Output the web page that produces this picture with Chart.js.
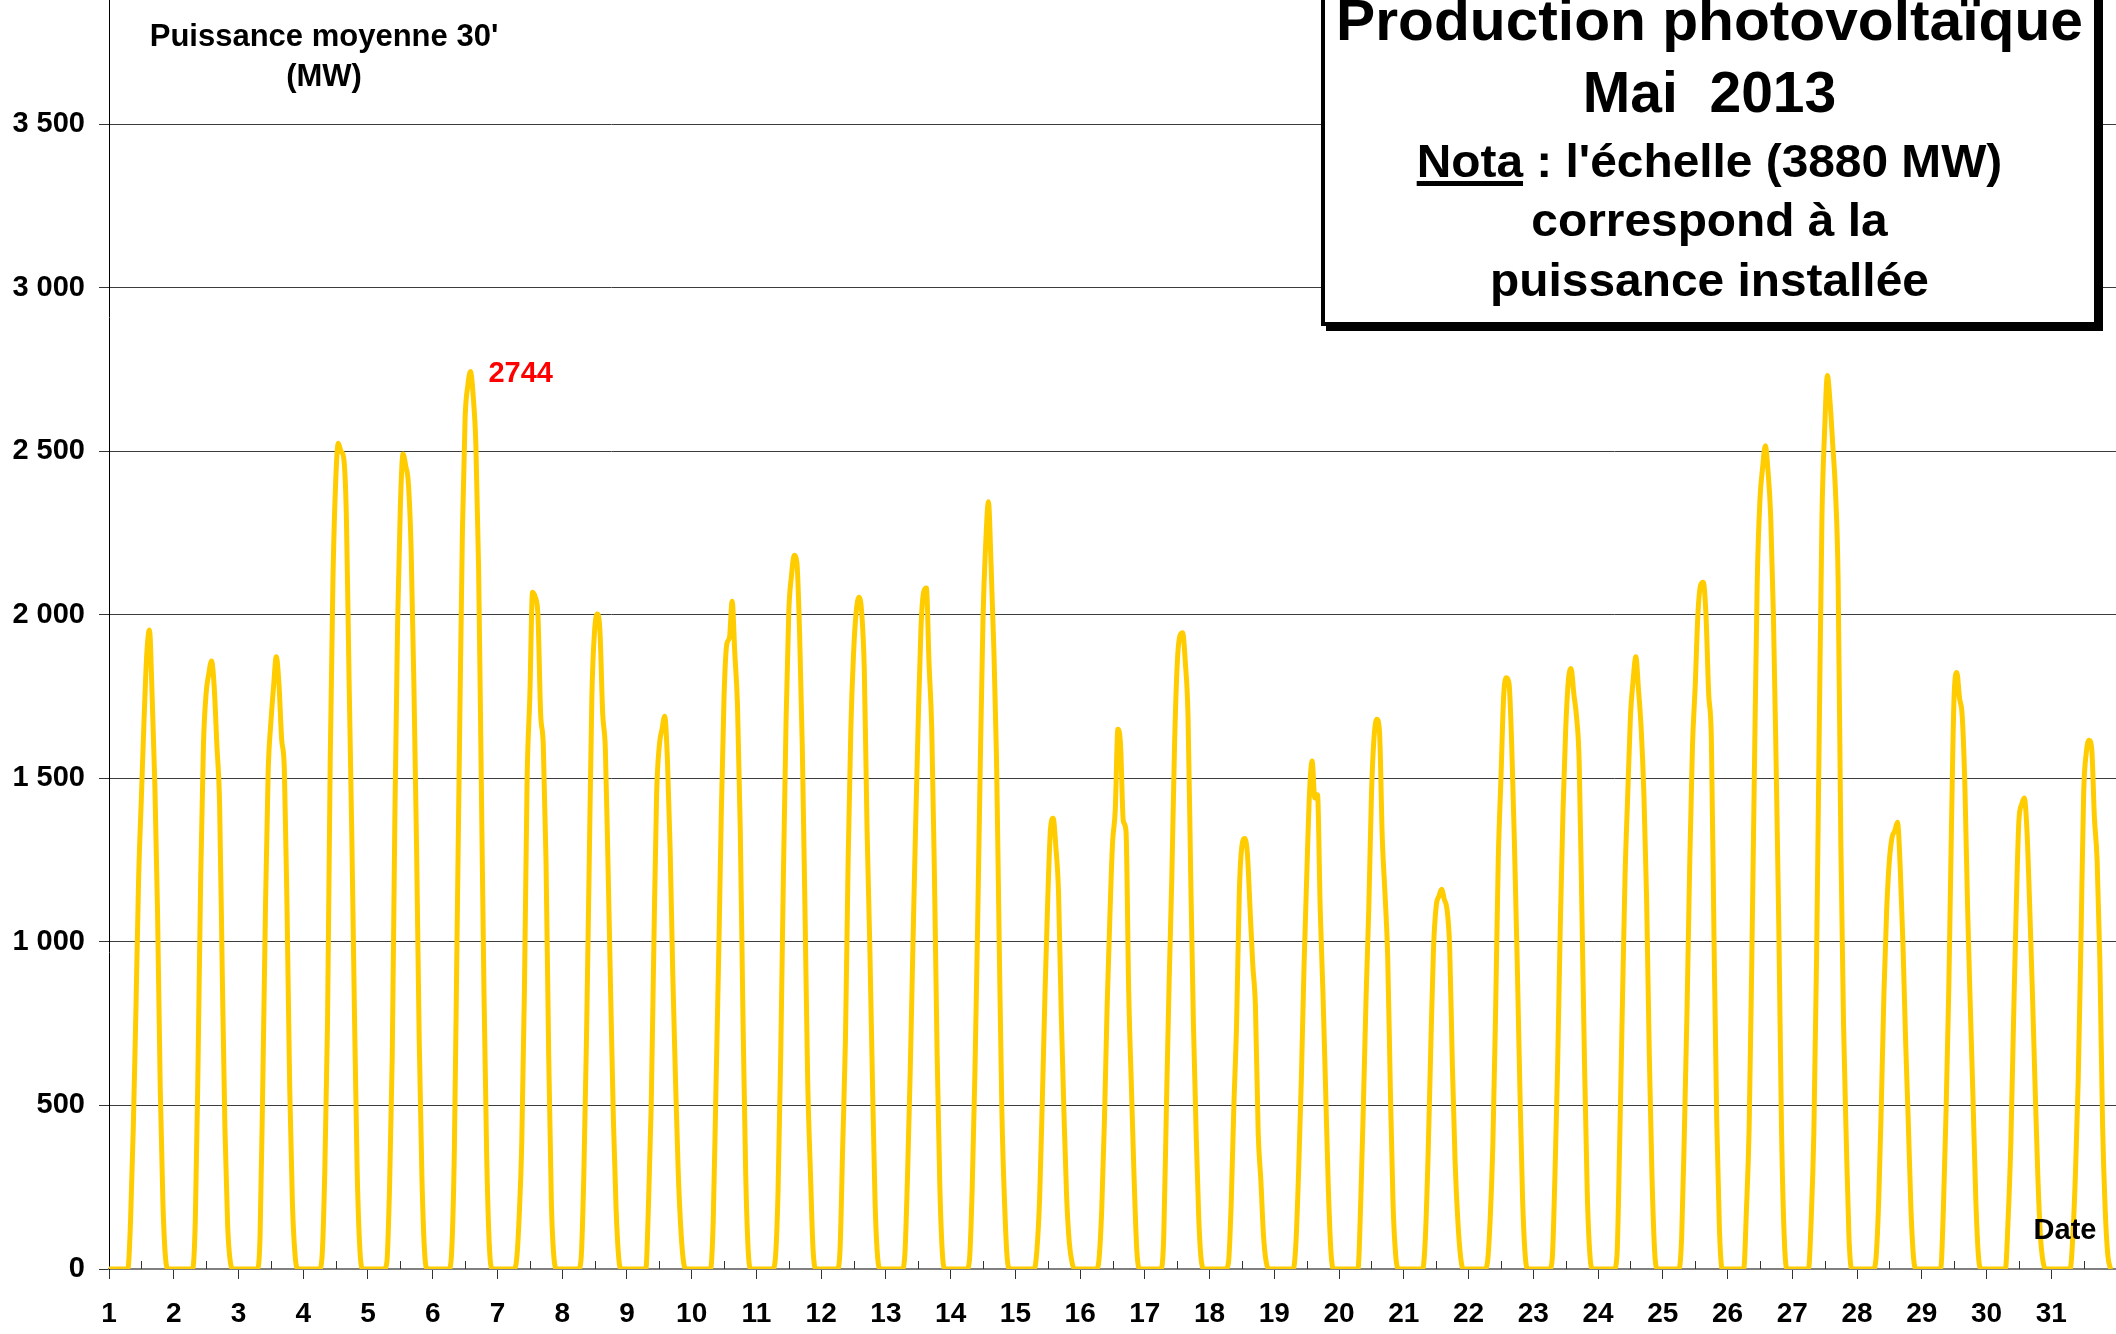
<!DOCTYPE html>
<html>
<head>
<meta charset="utf-8">
<title>Production photovoltaïque - Mai 2013</title>
<script src="https://cdn.jsdelivr.net/npm/chart.js@4.4.0/dist/chart.umd.min.js"></script>
<style>
html, body { margin: 0; padding: 0; background: #fff; overflow: hidden; }
#wrap { position: relative; width: 2116px; height: 1334px; font-family: "Liberation Sans", Arial, sans-serif; font-weight: bold; color: #000; }
#myChart { position: absolute; left: 0; top: 0; }
.txt { position: absolute; white-space: nowrap; line-height: 1; text-align: center; }
#titlebox { position: absolute; left: 1321px; top: -60px; width: 777px; height: 386px; box-sizing: border-box; border: 4px solid #000; box-shadow: 5px 5px 0 #000; background: #fff; }
.tl { position: absolute; left: 1321px; width: 777px; white-space: nowrap; line-height: 1; text-align: center; transform-origin: 50% 50%; }
.big { font-size: 57px; }
.small { font-size: 46px; transform: scaleX(1.04); }
u { text-decoration-thickness: 5px; text-underline-offset: 4px; }
</style>
</head>
<body>
<div id="wrap">
  <canvas id="myChart" width="2116" height="1334"></canvas>
  <div class="txt" style="left:124px; width:400px; top:20px; font-size:31px;">Puissance moyenne 30'</div>
  <div class="txt" style="left:124px; width:400px; top:60px; font-size:31px;">(MW)</div>
  <div class="txt" style="left:2015px; width:100px; top:1215px; font-size:29px;">Date</div>
  <div id="titlebox"></div>
  <div class="tl big" style="top:-8px; transform: scaleX(1.03);">Production photovoltaïque</div>
  <div class="tl big" style="top:64px;">Mai&nbsp; 2013</div>
  <div class="tl small" style="top:138px;"><u>Nota</u> : l'échelle (3880 MW)</div>
  <div class="tl small" style="top:197px;">correspond à la</div>
  <div class="tl small" style="top:257px;">puissance installée</div>
</div>
<script>
// jours du mois et heures relevées (0h puis 6h..22h)
var days = [1, 2, 3, 4, 5, 6, 7, 8, 9, 10, 11, 12, 13, 14, 15, 16, 17, 18, 19, 20, 21, 22, 23, 24, 25, 26, 27, 28, 29, 30, 31];
var hours = [0, 6, 7, 8, 9, 10, 11, 12, 13, 14, 15, 16, 17, 18, 19, 20, 21, 22];

// puissance moyenne (MW) par jour, aux heures ci-dessus
var d01 = [0, 0, 0, 150, 430, 800, 1200, 1440, 1680, 1880, 1954, 1750, 1480, 1090, 550, 200, 30, 0];
var d02 = [0, 0, 0, 150, 620, 1200, 1600, 1760, 1820, 1859, 1780, 1600, 1420, 900, 420, 130, 20, 0];
var d03 = [0, 0, 0, 100, 560, 1100, 1520, 1670, 1780, 1872, 1790, 1620, 1530, 1100, 550, 200, 40, 0];
var d04 = [0, 0, 40, 300, 750, 1550, 2100, 2400, 2525, 2500, 2480, 2300, 1800, 1330, 780, 300, 60, 0];
var d05 = [0, 0, 20, 250, 650, 1400, 1980, 2330, 2492, 2455, 2400, 2200, 1800, 1300, 700, 280, 50, 0];
var d06 = [0, 0, 50, 350, 1000, 1650, 2250, 2600, 2700, 2744, 2670, 2520, 2150, 1500, 850, 350, 70, 0];
var d07 = [0, 0, 20, 150, 380, 850, 1500, 1750, 2069, 2054, 2000, 1700, 1600, 1250, 650, 200, 30, 0];
var d08 = [0, 0, 30, 280, 700, 1230, 1750, 1950, 2003, 1950, 1700, 1590, 1230, 830, 450, 180, 30, 0];
var d09 = [0, 0, 0, 200, 500, 1000, 1450, 1600, 1650, 1690, 1560, 1290, 900, 580, 300, 120, 20, 0];
var d10 = [0, 0, 0, 150, 550, 950, 1400, 1750, 1910, 1930, 2042, 1880, 1720, 1350, 780, 300, 50, 0];
var d11 = [0, 0, 30, 230, 650, 1200, 1680, 2010, 2120, 2182, 2160, 1945, 1600, 1100, 580, 300, 60, 0];
var d12 = [0, 0, 60, 380, 700, 1250, 1650, 1880, 2010, 2054, 2010, 1830, 1350, 1000, 580, 200, 30, 0];
var d13 = [0, 0, 40, 280, 600, 980, 1350, 1680, 1960, 2070, 2082, 1850, 1650, 1200, 650, 250, 40, 0];
var d14 = [0, 0, 30, 250, 600, 1050, 1550, 1990, 2218, 2346, 2150, 1900, 1562, 1000, 480, 200, 30, 0];
var d15 = [0, 0, 0, 60, 220, 520, 850, 1130, 1344, 1378, 1290, 1150, 780, 480, 220, 80, 20, 0];
var d16 = [0, 0, 30, 180, 450, 800, 1070, 1300, 1400, 1650, 1600, 1370, 1340, 850, 560, 280, 60, 0];
var d17 = [0, 0, 100, 500, 880, 1200, 1600, 1850, 1936, 1945, 1854, 1690, 1200, 750, 420, 150, 20, 0];
var d18 = [0, 0, 20, 200, 500, 750, 1150, 1295, 1316, 1270, 1100, 930, 800, 420, 270, 100, 20, 0];
var d19 = [0, 0, 0, 80, 300, 580, 924, 1198, 1450, 1553, 1440, 1450, 1100, 850, 550, 250, 50, 0];
var d20 = [0, 0, 0, 200, 500, 830, 1100, 1450, 1630, 1681, 1640, 1320, 1150, 960, 550, 200, 40, 0];
var d21 = [0, 0, 0, 100, 350, 680, 980, 1110, 1140, 1161, 1130, 1100, 980, 620, 330, 150, 40, 0];
var d22 = [0, 0, 20, 150, 380, 780, 1250, 1500, 1750, 1808, 1790, 1600, 1300, 950, 560, 220, 40, 0];
var d23 = [0, 0, 30, 280, 620, 1050, 1400, 1650, 1800, 1836, 1760, 1690, 1550, 1100, 620, 230, 40, 0];
var d24 = [0, 0, 40, 380, 800, 1200, 1450, 1690, 1800, 1872, 1770, 1650, 1450, 1130, 650, 280, 50, 0];
var d25 = [0, 0, 100, 420, 800, 1250, 1600, 1780, 2000, 2090, 2100, 2000, 1760, 1620, 1000, 450, 120, 0];
var d26 = [0, 0, 180, 430, 950, 1550, 2100, 2350, 2450, 2517, 2440, 2300, 2000, 1550, 1050, 430, 100, 0];
var d27 = [0, 0, 150, 420, 950, 1650, 2300, 2565, 2732, 2650, 2520, 2380, 2100, 1300, 750, 400, 100, 0];
var d28 = [0, 0, 30, 200, 500, 850, 1100, 1250, 1320, 1340, 1366, 1230, 1000, 700, 450, 180, 30, 0];
var d29 = [0, 0, 0, 180, 480, 850, 1350, 1754, 1824, 1745, 1690, 1471, 1100, 800, 520, 220, 40, 0];
var d30 = [0, 0, 0, 150, 380, 750, 1100, 1370, 1420, 1440, 1340, 1110, 850, 560, 290, 100, 20, 0];
var d31 = [0, 0, 0, 100, 300, 580, 1000, 1450, 1580, 1617, 1590, 1380, 1250, 950, 450, 180, 40, 0];
var profiles = [d01, d02, d03, d04, d05, d06, d07, d08, d09, d10, d11, d12, d13, d14, d15, d16,
                d17, d18, d19, d20, d21, d22, d23, d24, d25, d26, d27, d28, d29, d30, d31];

var yMax = 3880; // puissance installée
var yTicks = [0, 500, 1000, 1500, 2000, 2500, 3000, 3500];
var yTickLabels = ['0', '500', '1 000', '1 500', '2 000', '2 500', '3 000', '3 500'];
var xTickLabels = days.map(String);

var points = [];
days.forEach(function(d, i) {
    hours.forEach(function(h, j) {
        points.push({ x: d + h / 24, y: profiles[i][j] });
    });
});

var FONT = '"Liberation Sans", Arial, sans-serif';
Chart.defaults.font.family = FONT;
Chart.defaults.font.weight = 'bold';
Chart.defaults.color = '#000';

// petits traits à midi + valeur max en rouge
var extras = {
    id: 'extras',
    beforeDatasetsDraw: function(chart) {
        var ctx = chart.ctx, xs = chart.scales.x, ys = chart.scales.y;
        var y0 = ys.getPixelForValue(0);
        ctx.save();
        ctx.strokeStyle = '#333';
        ctx.lineWidth = 1;
        days.forEach(function(d) {
            var x = Math.round(xs.getPixelForValue(d + 0.5)) + 0.5;
            ctx.beginPath();
            ctx.moveTo(x, y0);
            ctx.lineTo(x, y0 - 8);
            ctx.stroke();
        });
        ctx.restore();
    },
    afterDatasetsDraw: function(chart) {
        var ctx = chart.ctx, xs = chart.scales.x, ys = chart.scales.y;
        var top = points[0];
        points.forEach(function(p) { if (p.y > top.y) top = p; });
        ctx.save();
        ctx.fillStyle = '#ff0000';
        ctx.font = 'bold 29px ' + FONT;
        ctx.textAlign = 'left';
        ctx.textBaseline = 'alphabetic';
        ctx.fillText(String(top.y), xs.getPixelForValue(top.x) + 18, ys.getPixelForValue(top.y) + 10);
        ctx.restore();
    }
};

var ctx = document.getElementById('myChart').getContext('2d');
var chart = new Chart(ctx, {
    type: 'line',
    data: {
        datasets: [{
            data: points,
            borderColor: '#FFCC00',
            backgroundColor: '#FFCC00',
            borderWidth: 5,
            pointRadius: 0,
            cubicInterpolationMode: 'monotone',
            borderJoinStyle: 'round',
            fill: false
        }]
    },
    options: {
        responsive: false,
        animation: false,
        parsing: false,
        layout: { padding: 0 },
        plugins: { legend: { display: false }, tooltip: { enabled: false } },
        scales: {
            x: {
                type: 'linear',
                min: 1,
                max: 32,
                afterBuildTicks: function(s) { s.ticks = days.map(function(d) { return { value: d }; }); },
                ticks: {
                    autoSkip: false,
                    maxRotation: 0,
                    padding: 18,
                    font: { size: 28, weight: 'bold' },
                    callback: function(v, i) { return xTickLabels[i]; }
                },
                grid: { drawOnChartArea: false, drawTicks: true, tickLength: 10, tickColor: '#333', tickWidth: 1 },
                border: { display: true, color: '#808080', width: 2 },
                afterFit: function(s) { s.height = 65; s.paddingLeft = 0; s.paddingRight = 0; }
            },
            y: {
                min: 0,
                max: yMax,
                afterBuildTicks: function(s) { s.ticks = yTicks.map(function(v) { return { value: v }; }); },
                ticks: {
                    padding: 14,
                    font: { size: 29, weight: 'bold' },
                    callback: function(v, i) { return yTickLabels[i]; }
                },
                grid: { color: '#3c3c3c', lineWidth: 1, tickLength: 10, tickColor: '#333' },
                border: { display: true, color: '#000', width: 1 },
                afterFit: function(s) { s.width = 109; s.paddingTop = 0; s.paddingBottom = 0; }
            }
        }
    },
    plugins: [extras]
});
</script>
</body>
</html>
